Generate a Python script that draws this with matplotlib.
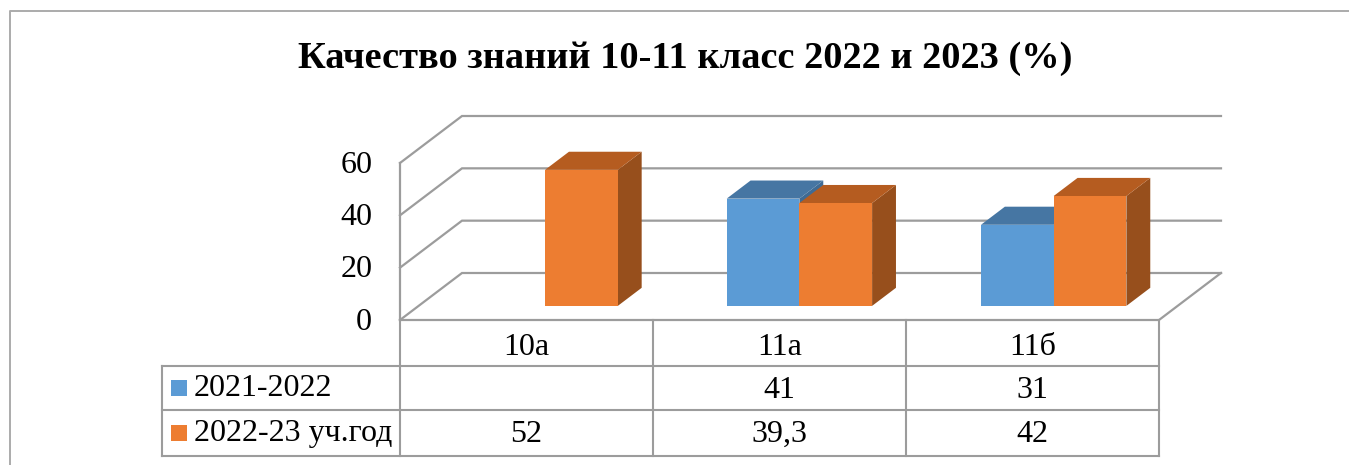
import matplotlib
matplotlib.use('Agg')
import matplotlib.pyplot as plt
from matplotlib.patches import Polygon, Rectangle
from matplotlib.transforms import ScaledTranslation

plt.rcParams['font.family'] = ['Liberation Serif', 'DejaVu Sans']

title = 'Качество знаний 10-11 класс 2022 и 2023 (%)'
categories = ['10а', '11а', '11б']
series_names = ['2021-2022', '2022-23 уч.год']
values_2022 = [None, 41, 31]
values_2023 = [52, 39.3, 42]
value_labels_2022 = ['', '41', '31']
value_labels_2023 = ['52', '39,3', '42']
y_ticks = [0, 20, 40, 60]

W, H = 1349, 465
GRID = '#9c9c9c'
BLUE = ('#5b9bd5', '#4676a3', '#3f6b94')
ORANGE = ('#ed7d31', '#b55c20', '#974f1c')

# 3d look: shear of the back wall, in axis units
DEPTH_X = 62 / 253
DEPTH_Y = 47 / (157 / 60)
BAR_START = 0.30    # where the bars sit in the depth
BAR_DEPTH = 0.385
BAR_W = 72.7 / 253
CAT_STEP = 254.3 / 253

fig = plt.figure(figsize=(W / 100, H / 100), dpi=100)

# Overlay in pixels for frame and table
over = fig.add_axes([0, 0, 1, 1])
over.set_xlim(0, W)
over.set_ylim(H, 0)
over.axis('off')

# Plot area: front wall of the chart
ax = fig.add_axes([400 / W, 1 - 320 / H, 759 / W, 157 / H])
ax.patch.set_alpha(0)
ax.set_xlim(0, 3)
ax.set_ylim(0, 60)
for s in ax.spines.values():
    s.set_visible(False)
ax.set_xticks([])
ax.set_yticks(y_ticks)
ax.tick_params(axis='y', length=0, pad=20, labelsize=23)
# labels sit a little higher than the gridlines
for lab in ax.get_yticklabels():
    lab.set_transform(lab.get_transform() + ScaledTranslation(0, 1.5 / 100, fig.dpi_scale_trans))


def proj(x, y, t):
    return (x + t * DEPTH_X, y + t * DEPTH_Y)


# Walls and gridlines
for v in y_ticks:
    a, b, c = proj(0, v, 0), proj(0, v, 1), proj(3, v, 1)
    ax.plot([a[0], b[0], c[0]], [a[1], b[1], c[1]], color=GRID, lw=1.6,
            clip_on=False, solid_joinstyle='miter')
a, b = proj(3, 0, 0), proj(3, 0, 1)
ax.plot([0, 3, b[0]], [0, 0, b[1]], color=GRID, lw=1.6, clip_on=False, solid_joinstyle='miter')
ax.plot([0, 0], [0, 60], color=GRID, lw=1.6, clip_on=False)


def bar3d(x0, val, colors, z):
    front = [proj(x0, 0, BAR_START), proj(x0 + BAR_W, 0, BAR_START),
             proj(x0 + BAR_W, val, BAR_START), proj(x0, val, BAR_START)]
    end = BAR_START + BAR_DEPTH
    top = [proj(x0, val, BAR_START), proj(x0 + BAR_W, val, BAR_START),
           proj(x0 + BAR_W, val, end), proj(x0, val, end)]
    side = [proj(x0 + BAR_W, 0, BAR_START), proj(x0 + BAR_W, 0, end),
            proj(x0 + BAR_W, val, end), proj(x0 + BAR_W, val, BAR_START)]
    for pts, col in ((side, colors[2]), (top, colors[1]), (front, colors[0])):
        ax.add_patch(Polygon(pts, closed=True, facecolor=col, edgecolor='none',
                             clip_on=False, zorder=z))


for i in range(len(categories)):
    center = i * CAT_STEP + 0.5
    if values_2022[i] is not None:
        bar3d(center - BAR_W, values_2022[i], BLUE, 3)
    bar3d(center, values_2023[i], ORANGE, 4)

# Outer frame
over.plot([9.5, 9.5, W], [H, 11.5, 11.5], color='#ababab', lw=1.4)

# Data table
cols = [400, 653, 906, 1159]
rows = [320, 365.5, 410, 455.5]
left = 161.5
line = dict(color=GRID, lw=1.5)
for x in cols:
    over.plot([x, x], [rows[0], rows[3]], **line)
over.plot([left, left], [rows[1], rows[3]], **line)
for r in rows[1:]:
    over.plot([left, cols[3]], [r, r], **line)

for i in range(3):
    cx = (cols[i] + cols[i + 1]) / 2
    over.text(cx, 347, categories[i], ha='center', va='center', fontsize=23)
    over.text(cx, 390, value_labels_2022[i], ha='center', va='center', fontsize=23)
    over.text(cx, 434, value_labels_2023[i], ha='center', va='center', fontsize=23)

for name, col, y in zip(series_names, (BLUE[0], ORANGE[0]), (388, 433)):
    over.add_patch(Rectangle((171, y - 8), 16, 16, facecolor=col, edgecolor='none'))
    over.text(194, y, name, ha='left', va='center', fontsize=23)

over.text(685, 59, title, ha='center', va='center', fontsize=27.6, fontweight='bold')

fig.savefig('out.png', dpi=100)
